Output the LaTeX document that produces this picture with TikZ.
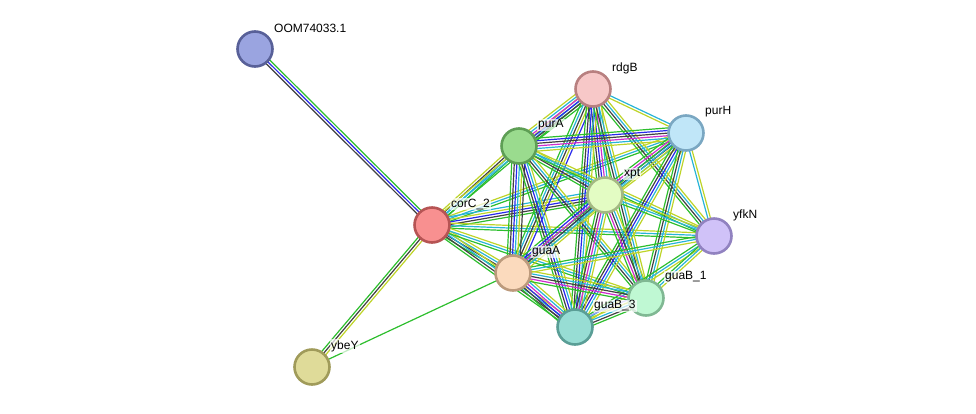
\documentclass[tikz,border=0pt]{standalone}
\usepackage{fontspec}
\setmainfont{Liberation Sans}
\usetikzlibrary{calc, backgrounds}
% evidence colours
\definecolor{strnbr}{RGB}{45, 190, 45}
\definecolor{strdb}{RGB}{40, 180, 215}
\definecolor{strtxt}{RGB}{190, 212, 40}
\definecolor{strcoex}{RGB}{65, 65, 65}
\definecolor{strcooc}{RGB}{40, 40, 235}
\definecolor{strexp}{RGB}{205, 45, 205}
\definecolor{strhom}{RGB}{160, 160, 245}
% node colours
\definecolor{oomfill}{RGB}{154, 164, 224}\definecolor{oomdraw}{RGB}{88, 96, 152}
\definecolor{corfill}{RGB}{248, 144, 144}\definecolor{cordraw}{RGB}{182, 84, 84}
\definecolor{rdgfill}{RGB}{247, 200, 200}\definecolor{rdgdraw}{RGB}{184, 128, 128}
\definecolor{pafill}{RGB}{154, 219, 142}\definecolor{padraw}{RGB}{94, 158, 85}
\definecolor{phfill}{RGB}{192, 230, 248}\definecolor{phdraw}{RGB}{122, 167, 194}
\definecolor{xptfill}{RGB}{227, 252, 195}\definecolor{xptdraw}{RGB}{163, 184, 131}
\definecolor{yfkfill}{RGB}{208, 194, 248}\definecolor{yfkdraw}{RGB}{145, 130, 192}
\definecolor{gafill}{RGB}{251, 218, 189}\definecolor{gadraw}{RGB}{188, 154, 124}
\definecolor{gbafill}{RGB}{191, 248, 211}\definecolor{gbadraw}{RGB}{128, 184, 147}
\definecolor{gbcfill}{RGB}{151, 221, 212}\definecolor{gbcdraw}{RGB}{90, 158, 150}
\definecolor{ybefill}{RGB}{223, 219, 153}\definecolor{ybedraw}{RGB}{160, 155, 90}

\newcommand\linkcount{0}
% parallel evidence lines between two nodes
\newcommand{\stredge}[3]{%
  \foreach \c [count=\n] in {#3}{\xdef\linkcount{\n}}%
  \foreach \c [count=\k] in {#3}{%
    \pgfmathsetmacro\off{(\k-(\linkcount+1)/2)*2.6}%
    \draw[link, \c] ($(#1)!\off pt!90:(#2)$) -- ($(#2)!\off pt!-90:(#1)$);
  }%
}

\begin{document}
\begin{tikzpicture}[x=1pt, y=-1pt,
    prot/.style={circle, line width=2.6pt, minimum size=35pt, inner sep=0pt},
    lbl/.style={anchor=west, inner sep=1pt, font=\fontsize{12}{14}\selectfont,
                fill=white, fill opacity=0.7, text opacity=1},
    link/.style={line width=1.2pt}
  ]
    \useasboundingbox (0,0) rectangle (976,413);

    \node[prot, fill=oomfill, draw=oomdraw] (oom)  at (255,49)  {};
    \node[prot, fill=corfill, draw=cordraw] (corc) at (432,225) {};
    \node[prot, fill=rdgfill, draw=rdgdraw] (rdgb) at (593,89)  {};
    \node[prot, fill=pafill,  draw=padraw]  (pura) at (519,146) {};
    \node[prot, fill=phfill,  draw=phdraw]  (purh) at (686,133) {};
    \node[prot, fill=xptfill, draw=xptdraw] (xpt)  at (605,195) {};
    \node[prot, fill=yfkfill, draw=yfkdraw] (yfkn) at (714,236) {};
    \node[prot, fill=gafill,  draw=gadraw]  (guaa) at (513,273) {};
    \node[prot, fill=gbafill, draw=gbadraw] (guab1) at (646,298) {};
    \node[prot, fill=gbcfill, draw=gbcdraw] (guab3) at (575,327) {};
    \node[prot, fill=ybefill, draw=ybedraw] (ybey) at (312,367) {};

    \node[lbl] (oomlbl)  at ($(oom)+(18,-21)$)   {OOM74033.1};
    \node[lbl] (corclbl) at ($(corc)+(18,-21)$)  {corC\_2};
    \node[lbl] (rdgblbl) at ($(rdgb)+(18,-21)$)  {rdgB};
    \node[lbl] (puralbl) at ($(pura)+(18,-21)$)  {purA};
    \node[lbl] (purhlbl) at ($(purh)+(18,-21)$)  {purH};
    \node[lbl] (xptlbl)  at ($(xpt)+(18,-21)$)   {xpt};
    \node[lbl] (yfknlbl) at ($(yfkn)+(18,-21)$)  {yfkN};
    \node[lbl] (guaalbl) at ($(guaa)+(18,-21)$)  {guaA};
    \node[lbl] (guab1lbl) at ($(guab1)+(18,-21)$) {guaB\_1};
    \node[lbl] (guab3lbl) at ($(guab3)+(18,-21)$) {guaB\_3};
    \node[lbl] (ybeylbl) at ($(ybey)+(18,-21)$)  {ybeY};

    \begin{scope}[on background layer]
      \stredge{oom}{corc}{strcoex, strcooc, strnbr}
      \stredge{corc}{ybey}{strnbr, strcoex, strtxt}
      \stredge{guaa}{ybey}{strnbr}
      \stredge{corc}{pura}{strnbr, strdb, strcoex, strtxt}
      \stredge{corc}{rdgb}{strnbr, strdb, strtxt}
      \stredge{corc}{purh}{strnbr, strdb, strtxt}
      \stredge{corc}{xpt}{strnbr, strcoex, strcooc, strtxt, strdb}
      \stredge{corc}{yfkn}{strnbr, strdb, strtxt}
      \stredge{corc}{guaa}{strnbr, strcoex, strdb, strtxt}
      \stredge{corc}{guab3}{strnbr, strcoex, strdb, strtxt}
      \stredge{corc}{guab1}{strnbr, strdb, strtxt}
      \stredge{rdgb}{pura}{strtxt, strdb, strexp, strcooc, strcoex, strnbr}
      \stredge{rdgb}{purh}{strtxt, strdb}
      \stredge{rdgb}{xpt}{strnbr, strcoex, strcooc, strexp, strdb, strtxt}
      \stredge{rdgb}{guaa}{strnbr, strdb, strcoex, strtxt, strcooc}
      \stredge{rdgb}{guab3}{strnbr, strcoex, strcooc, strdb, strtxt}
      \stredge{rdgb}{guab1}{strnbr, strcoex, strdb, strtxt}
      \stredge{rdgb}{yfkn}{strnbr, strcoex, strdb, strtxt}
      \stredge{pura}{purh}{strtxt, strdb, strexp, strcoex, strcooc, strnbr}
      \stredge{pura}{xpt}{strnbr, strcoex, strdb, strtxt}
      \stredge{pura}{guaa}{strnbr, strcoex, strcooc, strdb, strtxt, strcoex}
      \stredge{pura}{guab3}{strnbr, strcoex, strcooc, strdb, strtxt}
      \stredge{pura}{guab1}{strnbr, strcoex, strdb, strtxt}
      \stredge{pura}{yfkn}{strnbr, strdb, strtxt}
      \stredge{purh}{xpt}{strnbr, strexp, strcooc, strcoex, strdb, strtxt}
      \stredge{purh}{guaa}{strnbr, strdb, strtxt}
      \stredge{purh}{guab3}{strnbr, strcoex, strcooc, strdb, strtxt}
      \stredge{purh}{guab1}{strnbr, strcoex, strdb, strtxt}
      \stredge{purh}{yfkn}{strdb, strtxt}
      \stredge{xpt}{guaa}{strnbr, strcooc, strexp, strcoex, strdb, strtxt}
      \stredge{xpt}{guab3}{strnbr, strcoex, strexp, strdb, strtxt}
      \stredge{xpt}{guab1}{strnbr, strexp, strcoex, strdb, strtxt}
      \stredge{xpt}{yfkn}{strnbr, strdb, strtxt}
      \stredge{yfkn}{guaa}{strnbr, strdb, strtxt}
      \stredge{yfkn}{guab3}{strnbr, strdb, strtxt}
      \stredge{yfkn}{guab1}{strnbr, strdb, strtxt}
      \stredge{guaa}{guab3}{strnbr, strcoex, strcooc, strexp, strdb, strtxt}
      \stredge{guaa}{guab1}{strnbr, strexp, strcoex, strdb, strtxt}
      \stredge{guab3}{guab1}{strnbr, strcoex, strdb, strtxt, strhom}
    \end{scope}
  \end{tikzpicture}
\end{document}
